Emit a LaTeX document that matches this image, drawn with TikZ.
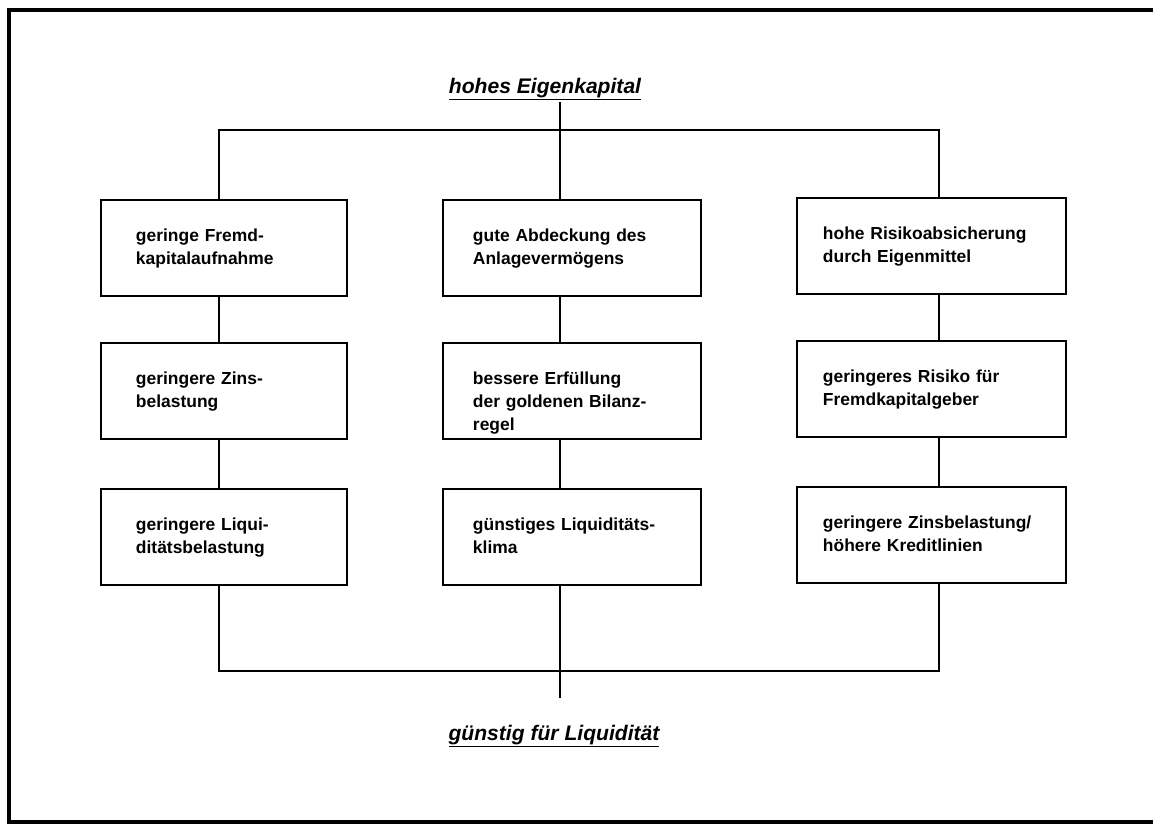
\documentclass[tikz,border=0pt]{standalone}
\usepackage{fontspec}
\setmainfont{Liberation Sans}

\begin{document}
\begin{tikzpicture}[x=0.025cm,y=-0.025cm,
  box/.style={draw,line width=1.3pt,inner ysep=0pt,align=left,
    text height=1.025cm,text depth=1.375cm,
    font=\fontsize{12.4}{16.4}\selectfont\bfseries},
  boxa/.style={box,inner xsep=0.875cm,text width=4.4cm},
  boxb/.style={box,inner xsep=0.75cm,text width=4.95cm},
  boxc/.style={box,inner xsep=0.65cm,text width=5.425cm},
  head/.style={inner sep=1pt,anchor=base,font=\fontsize{15}{18}\selectfont\bfseries\itshape},
  link/.style={line width=0.9pt}]
\useasboundingbox (0,0) rectangle (1153,825);
\draw[line width=2.2pt] (1153,10) -- (9,10) -- (9,822) -- (1153,822);
\node[head] (top) at (545,93) {\underline{hohes Eigenkapital}};
\node[boxa] (a1) at (224,248) {geringe Fremd-\\kapitalaufnahme};
\node[boxa] (a2) at (224,391) {geringere Zins-\\belastung};
\node[boxa] (a3) at (224,537) {geringere Liqui-\\ditätsbelastung};
\node[boxb] (b1) at (572,248) {gute Abdeckung des\\Anlagevermögens};
\node[boxb] (b2) at (572,391) {bessere Erfüllung\\der goldenen Bilanz-\\regel};
\node[boxb] (b3) at (572,537) {günstiges Liquiditäts-\\klima};
\node[boxc] (c1) at (931.5,246) {hohe Risikoabsicherung\\durch Eigenmittel};
\node[boxc] (c2) at (931.5,389) {geringeres Risiko für\\Fremdkapitalgeber};
\node[boxc] (c3) at (931.5,535) {geringere Zinsbelastung/\\höhere Kreditlinien};
\node[head] (bot) at (554,740) {\underline{günstig für Liquidität}};
\coordinate (s1) at (219,0);
\coordinate (s2) at (560,0);
\coordinate (s3) at (939,0);
\coordinate (tb) at (560,130);
\coordinate (bb) at (560,671);
\coordinate (be) at (560,698);
\draw[link] (top.south -| s2) -- (b1.north -| s2);
\draw[link] (a1.north -| s1) |- (tb) -| (c1.north -| s3);
\draw[link] (a1.south -| s1) -- (a2.north -| s1);
\draw[link] (a2.south -| s1) -- (a3.north -| s1);
\draw[link] (b1.south -| s2) -- (b2.north -| s2);
\draw[link] (b2.south -| s2) -- (b3.north -| s2);
\draw[link] (c1.south -| s3) -- (c2.north -| s3);
\draw[link] (c2.south -| s3) -- (c3.north -| s3);
\draw[link] (a3.south -| s1) |- (bb) -| (c3.south -| s3);
\draw[link] (b3.south -| s2) -- (be);
\end{tikzpicture}
\end{document}
